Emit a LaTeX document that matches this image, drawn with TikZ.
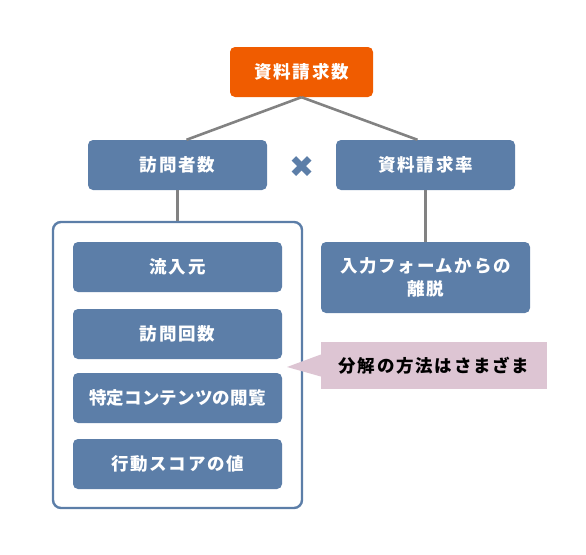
\documentclass[tikz,border=0pt]{standalone}
\usepackage{fontspec}
\setmainfont{Noto Sans CJK JP}[LetterSpace=10]
\newfontfamily\symfont{DejaVu Sans}
\usepackage{xcolor}
\usetikzlibrary{calc}
\definecolor{kpiorange}{RGB}{240,92,0}
\definecolor{kpiblue}{RGB}{92,126,168}
\definecolor{notepink}{RGB}{221,197,211}
\definecolor{linegray}{RGB}{130,130,130}
\tikzset{
	kpibox/.style={
			draw=none, fill=kpiblue, rounded corners=5pt, text=white,
			font=\fontsize{17.5}{23}\selectfont\bfseries, align=center,
			minimum height=50pt, inner sep=0pt
		},
	link/.style={draw=linegray, line width=2.6pt}
}

\begin{document}
\begin{tikzpicture}[x=1pt, y=-1pt]
			\useasboundingbox (0,0) rectangle (586,554);

			\node[kpibox, fill=kpiorange, minimum width=143pt] (req) at (301.5,72) {資料請求数};
			\node[kpibox, minimum width=179pt] (visit) at (177.5,165) {訪問者数};
			\node[kpibox, minimum width=179pt] (rate) at (425.5,165) {資料請求率};
			\node[text=kpiblue, font=\symfont\fontsize{30}{30}\selectfont] (times) at (302,167) {✖};

			\draw[link] (req.south) -- ([xshift=9pt]visit.north);
			\draw[link] (req.south) -- ([xshift=-8pt]rate.north);

			% visitor side
			\node[draw=kpiblue, line width=2.4pt, fill=white, rounded corners=8pt,
				minimum width=249pt, minimum height=286pt] (split) at (177.5,365) {};
			\draw[link] (visit.south) -- (split.north);

			\foreach \name/\y/\txt in {src/267/流入元, freq/334/訪問回数, score/464/行動スコアの値} {
				\node[kpibox, minimum width=209pt] (\name) at (177.5,\y) {\txt};
			}
			\node[kpibox, minimum width=209pt] (page) at (177.5,398) {\addfontfeature{LetterSpace=1}特定コンテンツの閲覧};

			% rate side
			\node[kpibox, minimum width=209pt, minimum height=71pt] (exit) at (425.5,277.5) {入力フォームからの\\離脱};
			\draw[link] (rate.south) -- (exit.north);

			% note
			\node[fill=notepink, minimum width=226pt, minimum height=47pt, inner sep=0pt,
				font=\fontsize{17.5}{23}\selectfont\bfseries] (note) at (434,365.5) {分解の方法はさまざま};
			\coordinate (tip) at (287,367);
			\fill[notepink] (tip) -- ($(note.west)+(0,-11)$) -- ($(note.west)+(0,11)$) -- cycle;
		\end{tikzpicture}
\end{document}
